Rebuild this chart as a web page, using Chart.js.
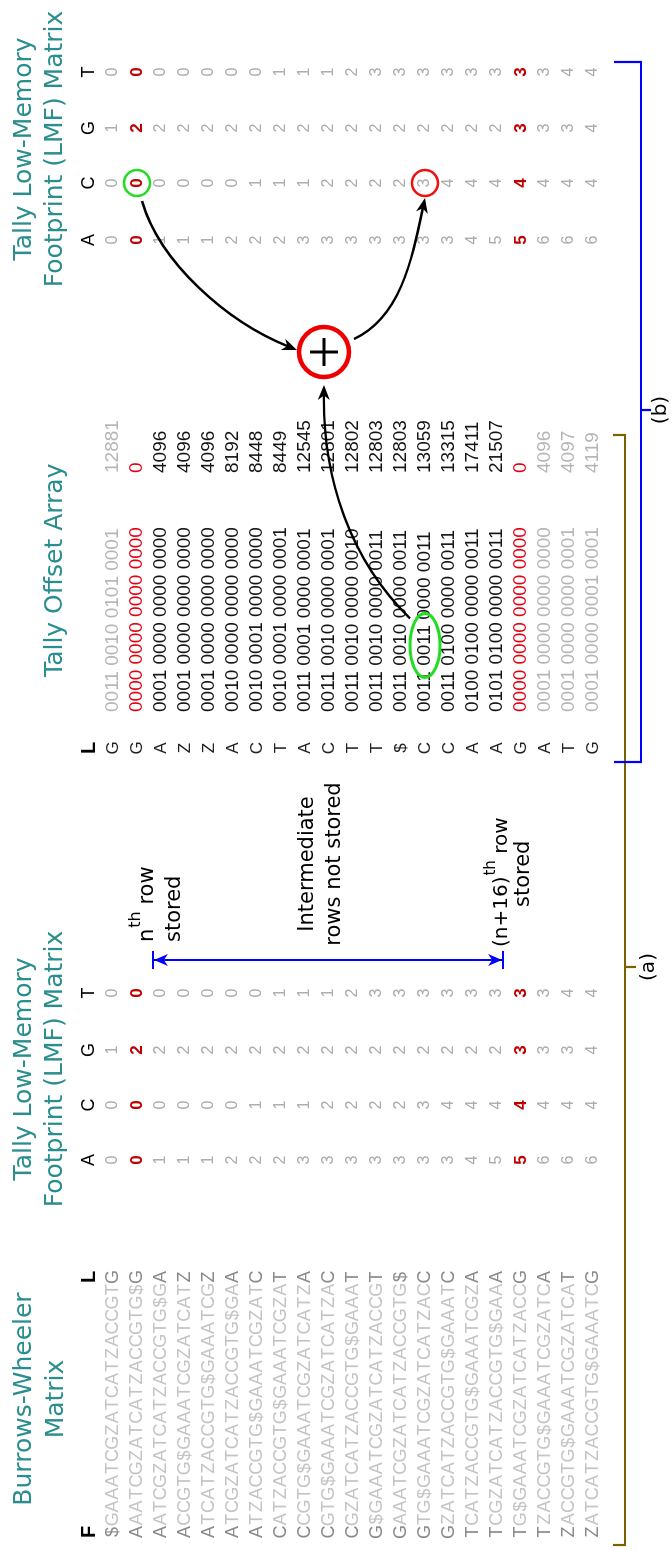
<!DOCTYPE html>
<html>
<head>
<meta charset="utf-8">
<script src="https://cdn.jsdelivr.net/npm/chart.js@4.4.1/dist/chart.umd.min.js"></script>
<style>
  html, body { margin: 0; padding: 0; background: #fff; overflow: hidden; }
  #page { position: relative; width: 672px; height: 1550px; }
  /* the figure is laid out landscape and turned a quarter turn */
  #wrap { position: absolute; left: 0; top: 0; width: 1550px; height: 672px;
          transform-origin: 0 0; transform: translate(0, 1550px) rotate(-90deg); }
</style>
</head>
<body>
<div id="page"><div id="wrap"><canvas id="fig" width="1550" height="672"></canvas></div></div>
<script>
// ---- data ----
const bwtRows = [
  "$GAAATCGZATCATZACCGTG", "AAATCGZATCATZACCGTG$G", "AATCGZATCATZACCGTG$GA",
  "ACCGTG$GAAATCGZATCATZ", "ATCATZACCGTG$GAAATCGZ", "ATCGZATCATZACCGTG$GAA",
  "ATZACCGTG$GAAATCGZATC", "CATZACCGTG$GAAATCGZAT", "CCGTG$GAAATCGZATCATZA",
  "CGTG$GAAATCGZATCATZAC", "CGZATCATZACCGTG$GAAAT", "G$GAAATCGZATCATZACCGT",
  "GAAATCGZATCATZACCGTG$", "GTG$GAAATCGZATCATZACC", "GZATCATZACCGTG$GAAATC",
  "TCATZACCGTG$GAAATCGZA", "TCGZATCATZACCGTG$GAAA", "TG$GAAATCGZATCATZACCG",
  "TZACCGTG$GAAATCGZATCA", "ZACCGTG$GAAATCGZATCAT", "ZATCATZACCGTG$GAAATCG"
];
const bases = ["A", "C", "G", "T"];
const tallyA = [0,0,1,1,1,2,2,2,3,3,3,3,3,3,3,4,5,5,6,6,6];
const tallyC = [0,0,0,0,0,0,1,1,1,2,2,2,2,3,4,4,4,4,4,4,4];
const tallyG = [1,2,2,2,2,2,2,2,2,2,2,2,2,2,2,2,2,3,3,3,4];
const tallyT = [0,0,0,0,0,0,0,1,1,1,2,3,3,3,3,3,3,3,3,4,4];
const lastCol = ["G","G","A","Z","Z","A","C","T","A","C","T","T","$","C","C","A","A","G","A","T","G"];
const offsetBits = [
  "0011 0010 0101 0001", "0000 0000 0000 0000", "0001 0000 0000 0000",
  "0001 0000 0000 0000", "0001 0000 0000 0000", "0010 0000 0000 0000",
  "0010 0001 0000 0000", "0010 0001 0000 0001", "0011 0001 0000 0001",
  "0011 0010 0000 0001", "0011 0010 0000 0010", "0011 0010 0000 0011",
  "0011 0010 0000 0011", "0011 0011 0000 0011", "0011 0100 0000 0011",
  "0100 0100 0000 0011", "0101 0100 0000 0011", "0000 0000 0000 0000",
  "0001 0000 0000 0000", "0001 0000 0000 0001", "0001 0000 0001 0001"
];
const offsetValues = [12881,0,4096,4096,4096,8192,8448,8449,12545,12801,12802,12803,12803,13059,13315,17411,21507,0,4096,4097,4119];
const storedRows = [2, 18];   // rows kept in memory (n, n+16)
const queryRow = 14;          // looked-up row
const queryBase = "C";

// ---- look ----
const SANS = '"Liberation Sans", Arial, sans-serif';
const DEJAVU = '"DejaVu Sans", Verdana, sans-serif';
const TEAL = "#2b8e8e";

// column anchors along the long axis of the figure (px)
const BWT_X = 18, BWT_STEP = 12.75;
const LMF_LEFT_X = [390, 445, 500, 557];
const OFF_L_X = 802, OFF_BITS_X = 838, OFF_DEC_X = 1077;
const LMF_RIGHT_X = [1310, 1367, 1422, 1478];

const tallies = [tallyA, tallyC, tallyG, tallyT];

function rowState(r) {
  if (storedRows.includes(r)) return "stored";
  if (r < storedRows[0] || r > storedRows[1]) return "outside";
  return "inside";
}

function textColumn(x, texts, font, color, align) {
  return {
    data: texts.map((t, i) => ({ x: x, y: i + 1 })),
    cellText: texts.map(String),
    cellFont: font,
    cellColor: color,
    cellAlign: align || "center",
    pointRadius: 0,
    showLine: false,
  };
}
function header(x, text, font) {
  return {
    data: [{ x: x, y: 0 }],
    cellText: [text],
    cellFont: () => font,
    cellColor: () => "#000",
    cellAlign: "center",
    pointRadius: 0,
  };
}

const datasets = [];
// Burrows-Wheeler matrix, one column per character position
for (let k = 0; k < bwtRows[0].length; k++) {
  const edge = k === 0 || k === bwtRows[0].length - 1;
  datasets.push(textColumn(BWT_X + k * BWT_STEP, bwtRows.map((r) => r[k]),
    () => "18px " + SANS, () => (edge ? "#8a8a8a" : "#c4c4c4")));
}
datasets.push(header(BWT_X, "F", "bold 20px " + SANS));
datasets.push(header(BWT_X + 20 * BWT_STEP, "L", "bold 20px " + SANS));

const tallyFont = (i) => (rowState(i + 1) === "stored" ? "bold 17px " : "16px ") + SANS;
const tallyColor = (i) => (rowState(i + 1) === "stored" ? "#c00000" : "#ababab");
[LMF_LEFT_X, LMF_RIGHT_X].forEach((xs) => {
  bases.forEach((b, j) => {
    datasets.push(header(xs[j], b, "18px " + SANS));
    datasets.push(textColumn(xs[j], tallies[j], tallyFont, tallyColor));
  });
});

const offColor = (i) => ({ stored: "#e60012", inside: "#141414", outside: "#b5b5b5" })[rowState(i + 1)];
datasets.push(header(OFF_L_X, "L", "bold 20px " + SANS));
datasets.push(textColumn(OFF_L_X, lastCol, () => "17px " + SANS, () => "#222"));
datasets.push(textColumn(OFF_BITS_X, offsetBits, () => "19px " + SANS, offColor, "left"));
datasets.push(textColumn(OFF_DEC_X, offsetValues, () => "19px " + SANS, offColor, "left"));
const bitsIndex = datasets.length - 2;

// ---- drawing helpers ----
function arrowHead(ctx, x, y, ang, len, half) {
  ctx.save();
  ctx.translate(x, y);
  ctx.rotate(ang);
  ctx.beginPath();
  ctx.moveTo(0, 0);
  ctx.lineTo(-len, -half);
  ctx.lineTo(-len * 0.7, 0);
  ctx.lineTo(-len, half);
  ctx.closePath();
  ctx.fill();
  ctx.restore();
}
function curveArrow(ctx, p0, p1, p2, p3) {
  const ang = Math.atan2(p3[1] - p2[1], p3[0] - p2[0]);
  const back = 9, dx = Math.cos(ang) * back, dy = Math.sin(ang) * back;
  ctx.beginPath();
  ctx.moveTo(p0[0], p0[1]);
  ctx.bezierCurveTo(p1[0], p1[1], p2[0] - dx, p2[1] - dy, p3[0] - dx, p3[1] - dy);
  ctx.stroke();
  arrowHead(ctx, p3[0], p3[1], ang, 15, 6);
}
function superText(ctx, x, y, base, sup, rest, size) {
  ctx.textAlign = "left";
  ctx.textBaseline = "alphabetic";
  ctx.font = size + "px " + DEJAVU;
  ctx.fillText(base, x, y);
  x += ctx.measureText(base).width + 1;
  ctx.font = Math.round(size * 0.75) + "px " + DEJAVU;
  ctx.fillText(sup, x, y - size * 0.6);
  x += ctx.measureText(sup).width;
  ctx.font = size + "px " + DEJAVU;
  ctx.fillText(rest, x, y);
}

const figurePlugin = {
  id: "figure",
  afterDatasetsDraw(chart) {
    const ctx = chart.ctx;
    chart.data.datasets.forEach((ds, di) => {
      if (!ds.cellText) return;
      const meta = chart.getDatasetMeta(di);
      meta.data.forEach((pt, i) => {
        ctx.font = ds.cellFont(i);
        ctx.fillStyle = ds.cellColor(i);
        ctx.textAlign = ds.cellAlign;
        ctx.textBaseline = "middle";
        ctx.fillText(ds.cellText[i], pt.x, pt.y);
      });
    });
  },
  afterDraw(chart) {
    const ctx = chart.ctx;
    const xs = chart.scales.x, ys = chart.scales.y;
    ctx.save();

    // titles
    ctx.fillStyle = TEAL;
    ctx.font = "25px " + DEJAVU;
    ctx.textAlign = "center";
    ctx.textBaseline = "middle";
    ctx.fillText("Burrows-Wheeler", 151, 24);
    ctx.fillText("Matrix", 151, 56);
    [481, 1401].forEach((cx) => {
      ctx.fillText("Tally Low-Memory", cx, 24);
      ctx.fillText("Footprint (LMF) Matrix", cx, 55);
    });
    ctx.textAlign = "left";
    ctx.fillText("Tally Offset Array", 873, 55);

    // stored / not stored annotation
    ctx.fillStyle = "#000";
    superText(ctx, 608, 153, "n", "th", " row", 21);
    ctx.font = "21px " + DEJAVU;
    ctx.fillText("stored", 608, 180);
    ctx.textAlign = "center";
    ctx.fillText("Intermediate", 686, 313);
    ctx.fillText("rows not stored", 686, 340);
    superText(ctx, 603, 507, "(n+16)", "th", " row", 20);
    ctx.font = "21px " + DEJAVU;
    ctx.textAlign = "left";
    ctx.fillText("stored", 643, 529);

    // blue span between the stored rows
    const yTop = ys.getPixelForValue(storedRows[0]) + 16;
    const yBot = ys.getPixelForValue(storedRows[1]) - 18;
    ctx.strokeStyle = "#0000ff";
    ctx.fillStyle = "#0000ff";
    ctx.lineWidth = 2;
    ctx.beginPath();
    ctx.moveTo(590, yTop); ctx.lineTo(590, yBot);
    ctx.moveTo(581, yTop); ctx.lineTo(599, yTop);
    ctx.moveTo(581, yBot); ctx.lineTo(599, yBot);
    ctx.stroke();
    arrowHead(ctx, 590, yTop + 1, -Math.PI / 2, 14, 6);
    arrowHead(ctx, 590, yBot - 1, Math.PI / 2, 14, 6);

    // brackets (a) and (b)
    ctx.lineWidth = 2.2;
    ctx.strokeStyle = "#7d6100";
    ctx.beginPath();
    ctx.moveTo(5, 613); ctx.lineTo(5, 625); ctx.lineTo(1115, 625); ctx.lineTo(1115, 613);
    ctx.moveTo(583, 625); ctx.lineTo(583, 636);
    ctx.stroke();
    ctx.strokeStyle = "#0000ff";
    ctx.beginPath();
    ctx.moveTo(788, 614); ctx.lineTo(788, 641); ctx.lineTo(1488, 641); ctx.lineTo(1488, 614);
    ctx.moveTo(1140, 641); ctx.lineTo(1140, 651);
    ctx.stroke();
    ctx.fillStyle = "#000";
    ctx.font = "20px " + DEJAVU;
    ctx.textAlign = "center";
    ctx.textBaseline = "middle";
    ctx.fillText("(a)", 583, 649);
    ctx.fillText("(b)", 1140, 661);

    // highlighted cells
    const cX = LMF_RIGHT_X[bases.indexOf(queryBase)];
    const gx = xs.getPixelForValue(cX), gy = ys.getPixelForValue(storedRows[0]);
    const rx = gx, ry = ys.getPixelForValue(queryRow);
    ctx.lineWidth = 2.5;
    ctx.strokeStyle = "#22dd22";
    ctx.beginPath(); ctx.arc(gx, gy, 13, 0, Math.PI * 2); ctx.stroke();
    ctx.strokeStyle = "#ee1111";
    ctx.beginPath(); ctx.arc(rx, ry, 13, 0, Math.PI * 2); ctx.stroke();

    // ellipse round the C nibble of the query row
    const bitsPt = chart.getDatasetMeta(bitsIndex).data[queryRow - 1];
    ctx.font = "19px " + SANS;
    const nib = bases.indexOf(queryBase);
    const pre = ctx.measureText(offsetBits[queryRow - 1].slice(0, nib * 5)).width;
    const nw = ctx.measureText("0011").width;
    const ex = bitsPt.x + pre + nw / 2, ey = bitsPt.y;
    ctx.strokeStyle = "#22dd22";
    ctx.lineWidth = 3;
    ctx.beginPath(); ctx.ellipse(ex, ey, 32, 15, 0, 0, Math.PI * 2); ctx.stroke();

    // adder
    const px = 1198, py = 324;
    ctx.strokeStyle = "#ee0000";
    ctx.lineWidth = 4.5;
    ctx.beginPath(); ctx.arc(px, py, 25, 0, Math.PI * 2); ctx.stroke();
    ctx.strokeStyle = "#000";
    ctx.lineWidth = 3;
    ctx.beginPath();
    ctx.moveTo(px - 14, py); ctx.lineTo(px + 14, py);
    ctx.moveTo(px, py - 14); ctx.lineTo(px, py + 14);
    ctx.stroke();

    // arrows
    ctx.fillStyle = "#000";
    ctx.lineWidth = 2.4;
    curveArrow(ctx, [gx - 18, gy + 5], [gx - 80, gy + 23], [1225, 235], [px + 2, py - 27]);
    curveArrow(ctx, [ex + 27, ey - 15], [990, 350], [1080, 323], [px - 33, py]);
    curveArrow(ctx, [px + 13, py + 30], [1233, 401], [1300, 414], [rx - 15, ry]);

    ctx.restore();
  },
};

new Chart(document.getElementById("fig"), {
  type: "scatter",
  data: { datasets: datasets },
  options: {
    responsive: false,
    animation: false,
    devicePixelRatio: 1,
    layout: { padding: 0 },
    plugins: { legend: { display: false }, tooltip: { enabled: false } },
    scales: {
      x: { type: "linear", display: false, min: 0, max: 1550 },
      y: { type: "linear", display: false, reverse: true, min: -89 / 24, max: 672 / 24 - 89 / 24 },
    },
  },
  plugins: [figurePlugin],
});
</script>
</body>
</html>
